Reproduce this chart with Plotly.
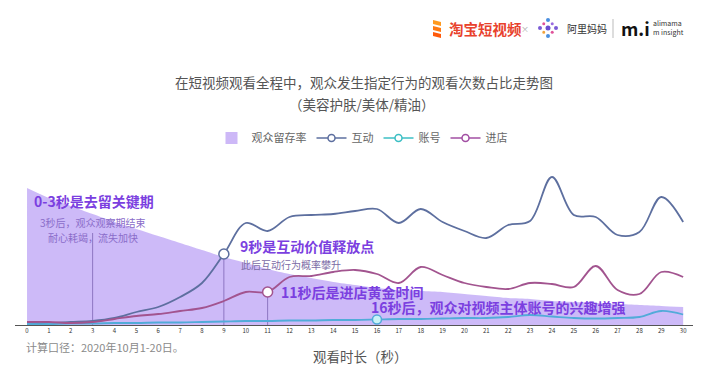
import plotly.graph_objects as go
import math

# ---------------- data ----------------
seconds = list(range(31))
tick_labels = [str(s) for s in seconds]

# 观众留存率 (%)
retention = [100, 92.7, 86.9, 81.0, 75.2, 70.1, 65.0, 59.9, 54.7, 49.6, 45.3,
             40.9, 37.2, 34.3, 31.4, 29.2, 27.0, 25.5, 24.8, 24.1, 22.6,
             21.2, 19.7, 19.0, 17.5, 16.8, 16.1, 15.3, 14.6, 13.9, 13.1]
# 互动
interaction = [0.2, 0.2, 0.3, 0.4, 0.7, 1.3, 1.8, 2.8, 4.2, 7.1, 10.2,
               9.4, 10.8, 11.0, 11.1, 11.4, 11.6, 10.2, 11.6, 10.3, 9.4,
               8.7, 10.0, 10.4, 14.8, 11.0, 10.8, 9.0, 9.3, 12.8, 10.3]
# 账号
account = [0.1, 0.1, 0.15, 0.15, 0.2, 0.2, 0.25, 0.25, 0.3, 0.35, 0.4,
           0.4, 0.45, 0.45, 0.5, 0.5, 0.55, 0.6, 0.6, 0.65, 0.7,
           0.7, 0.8, 1.0, 0.85, 0.7, 0.65, 0.7, 0.8, 1.4, 1.05]
# 进店
store = [0.3, 0.3, 0.2, 0.3, 0.6, 0.9, 1.1, 1.4, 1.7, 2.4, 3.3,
         3.3, 4.8, 4.9, 5.3, 5.5, 5.1, 4.2, 5.8, 5.0, 4.2,
         3.8, 3.6, 4.2, 4.1, 3.8, 5.9, 3.5, 3.1, 5.3, 4.8]

series_names = ["观众留存率", "互动", "账号", "进店"]
FONT = "Noto Sans CJK SC"

C_AREA = "rgba(198,176,247,0.88)"
C_INT = "#5d6f9f"
C_ACC = "#52abd9"
C_ACC_LEG = "#3cbfc4"
C_STORE = "#a2548f"
C_STORE_LEG = "#a24fa3"
C_VLINE = "#8d76c2"
C_BOLD = "#7b3fe0"

# geometry helpers (pixel -> paper)
L, R, T, B = 15, 693, 150, 325
def px(x):
    return (x - L) / (R - L)
def py(y):
    return (B - y) / (B - T)

fig = go.Figure()

# retention area (main y axis)
fig.add_trace(go.Scatter(x=seconds, y=retention, yaxis="y", mode="lines",
                         line=dict(width=0, shape="spline", smoothing=0.8),
                         fill="tozeroy", fillcolor=C_AREA, showlegend=False,
                         hoverinfo="skip"))

# vertical guide lines (on y2)
for xv, yv in [(3, 9.2), (9, interaction[9]), (11, store[11])]:
    fig.add_trace(go.Scatter(x=[xv, xv], y=[0, yv], yaxis="y2", mode="lines",
                             line=dict(color=C_VLINE, width=1),
                             showlegend=False, hoverinfo="skip"))

line_specs = [(interaction, C_INT), (account, C_ACC), (store, C_STORE)]
for vals, col in line_specs:
    fig.add_trace(go.Scatter(x=seconds, y=vals, yaxis="y2", mode="lines",
                             line=dict(color=col, width=1.8, shape="spline", smoothing=1.0),
                             showlegend=False))

# highlighted points
fig.add_trace(go.Scatter(x=[9], y=[interaction[9]], yaxis="y2", mode="markers",
                         marker=dict(size=10, color="white", line=dict(color=C_INT, width=1.5)),
                         showlegend=False))
fig.add_trace(go.Scatter(x=[11], y=[store[11]], yaxis="y2", mode="markers",
                         marker=dict(size=10, color="white", line=dict(color=C_STORE, width=1.5)),
                         showlegend=False))
fig.add_trace(go.Scatter(x=[16], y=[account[16]], yaxis="y2", mode="markers",
                         marker=dict(size=9, color="#c9f3f6", line=dict(color=C_ACC, width=1.5)),
                         showlegend=False))

# legend-only traces
fig.add_trace(go.Scatter(x=[None], y=[None], yaxis="y2", mode="markers", name=series_names[0],
                         marker=dict(symbol="square", size=12, color="#cdb8f7")))
for nm, col in [(series_names[1], C_INT), (series_names[2], C_ACC_LEG), (series_names[3], C_STORE_LEG)]:
    fig.add_trace(go.Scatter(x=[None], y=[None], yaxis="y2", mode="lines+markers", name=nm,
                             line=dict(color=col, width=1.5),
                             marker=dict(size=7, color="white", line=dict(color=col, width=1.5))))

ann = []
def add_text(text, x, y, size, color, xanchor="left", bold=False):
    ann.append(dict(text=("<b>%s</b>" % text) if bold else text, x=px(x), y=py(y),
                    xref="paper", yref="paper", xanchor=xanchor, yanchor="middle",
                    showarrow=False, font=dict(family=FONT, size=size, color=color)))

# titles
add_text("在短视频观看全程中，观众发生指定行为的观看次数占比走势图", 364, 82, 13.5, "#555555", "center")
add_text("（美容护肤/美体/精油）", 362, 104, 13.5, "#555555", "center")

# chart annotations
add_text("0-3秒是去留关键期", 32, 201, 14, C_BOLD, bold=True)
add_text("3秒后，观众观察期结束", 93, 222, 10, "#8a6cc9", "center")
add_text("耐心耗竭，流失加快", 93, 237, 10, "#8a6cc9", "center")
add_text("9秒是互动价值释放点", 238, 246, 14, C_BOLD, bold=True)
add_text("此后互动行为概率攀升", 239, 264, 10, "#7b6ba6")
add_text("11秒后是进店黄金时间", 279, 292, 14, C_BOLD, bold=True)
add_text("16秒后，观众对视频主体账号的兴趣增强", 369, 307, 14, C_BOLD, bold=True)

# footnote and axis title
add_text("计算口径：2020年10月1-20日。", 24, 347, 11, "#8a8a8a")
add_text("观看时长（秒）", 360, 356, 13.5, "#555555", "center")

# logos
add_text("淘宝短视频", 447, 29, 14.5, "#e8422d", bold=True)
add_text("×", 525, 29, 8, "#aaaaaa", "center")
add_text("阿里妈妈", 565, 29, 10, "#333333")
add_text("<b>m.i</b>", 619, 28, 18, "#111111")
add_text("alimama", 651, 23, 7, "#333333")
add_text("m insight", 651, 32, 7, "#333333")

shapes = []
# separator in logo
shapes.append(dict(type="line", xref="paper", yref="paper", x0=px(613), x1=px(613),
                   y0=py(19), y1=py(38), line=dict(color="#bbbbbb", width=1)))
# taobao video icon (stylised stripes)
for i, col in enumerate(["#ff9a1f", "#ff7a12", "#ff5a0a"]):
    y0 = 20 + i * 6
    path = "M %f %f L %f %f L %f %f L %f %f Z" % (
        px(433), py(y0), px(441), py(y0 + 2), px(441), py(y0 + 6), px(433), py(y0 + 4))
    shapes.append(dict(type="path", xref="paper", yref="paper", path=path,
                       fillcolor=col, line=dict(width=0)))
# alimama flower icon (dots)
cx, cy = 548, 28
dot_cols = ["#7b5cd6", "#e0529a", "#4a8fe0", "#f2a23a", "#7b5cd6", "#e0529a", "#4a8fe0", "#9b6be0"]
for k in range(8):
    a = k * math.pi / 4
    r = 2.0 if k % 2 == 0 else 1.5
    dist = 8 if k % 2 == 0 else 6
    x = cx + dist * math.cos(a)
    y = cy + dist * math.sin(a)
    shapes.append(dict(type="circle", xref="paper", yref="paper",
                       x0=px(x - r), x1=px(x + r), y0=py(y + r), y1=py(y - r),
                       fillcolor=dot_cols[k], line=dict(width=0)))
shapes.append(dict(type="circle", xref="paper", yref="paper",
                   x0=px(cx - 2.5), x1=px(cx + 2.5), y0=py(cy + 2.5), y1=py(cy - 2.5),
                   fillcolor="#6a4fd0", line=dict(width=0)))

fig.update_layout(
    width=716, height=380,
    margin=dict(l=L, r=716 - R, t=T, b=380 - B),
    paper_bgcolor="white", plot_bgcolor="white",
    font=dict(family=FONT, color="#555555"),
    xaxis=dict(range=[-0.55, 30.45], tickmode="array", tickvals=seconds, ticktext=tick_labels,
               tickfont=dict(size=6, color="#333333"), showgrid=False, zeroline=False,
               showline=True, linecolor="#555555", linewidth=1, ticks="", fixedrange=True),
    yaxis=dict(range=[0, 100 * (B - T) / 137], visible=False, fixedrange=True),
    yaxis2=dict(range=[0, (B - T) / 10], overlaying="y", side="right", visible=False,
                fixedrange=True),
    legend=dict(orientation="h", x=px(362), xanchor="center", y=py(138), yanchor="middle",
                font=dict(size=11, color="#666666", family=FONT), bgcolor="rgba(0,0,0,0)",
                itemwidth=30, traceorder="normal"),
    annotations=ann,
    shapes=shapes,
    showlegend=True,
)

fig.write_html("out.html")
